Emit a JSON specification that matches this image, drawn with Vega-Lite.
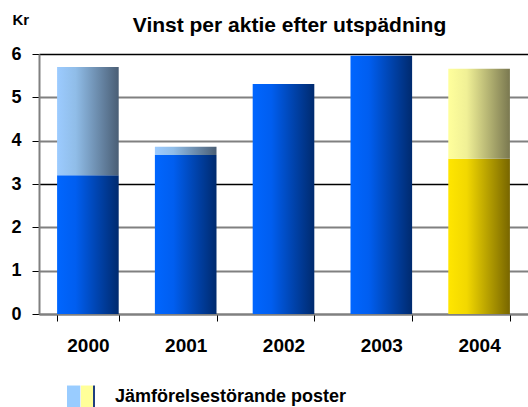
{
  "$schema": "https://vega.github.io/schema/vega-lite/v6.json",
  "width": 489,
  "height": 260,
  "autosize": {"type": "none"},
  "padding": {"left": 39, "top": 54, "right": 0, "bottom": 93},
  "background": "white",
  "config": {"view": {"stroke": null}, "font": "Liberation Sans"},
  "title": {
    "text": "Vinst per aktie efter utspädning",
    "fontSize": 21,
    "fontWeight": "bold",
    "font": "Liberation Sans",
    "color": "#000",
    "anchor": "middle",
    "dx": 6,
    "dy": 28
  },
  "data": {
    "values": [
      {"year": "2000", "part": "base", "group": "blue", "low": 0, "high": 3.2},
      {"year": "2000", "part": "extra", "group": "blue", "low": 3.2, "high": 5.7},
      {"year": "2001", "part": "base", "group": "blue", "low": 0, "high": 3.67},
      {"year": "2001", "part": "extra", "group": "blue", "low": 3.67, "high": 3.86},
      {"year": "2002", "part": "base", "group": "blue", "low": 0, "high": 5.31},
      {"year": "2003", "part": "base", "group": "blue", "low": 0, "high": 5.96},
      {"year": "2004", "part": "base", "group": "yellow", "low": 0, "high": 3.58},
      {"year": "2004", "part": "extra", "group": "yellow", "low": 3.58, "high": 5.66}
    ]
  },
  "encoding": {
    "x": {
      "field": "year",
      "type": "nominal",
      "scale": {"paddingInner": 0.37, "paddingOuter": 0.185},
      "axis": {
        "title": null,
        "domainColor": "#808080",
        "domainWidth": 2,
        "tickColor": "#000",
        "tickSize": 7,
        "tickBand": "extent",
        "labelAngle": 0,
        "labelFontSize": 19,
        "labelFontWeight": "bold",
        "labelColor": "#000",
        "labelBaseline": "alphabetic",
        "labelPadding": 30,
        "grid": false
      }
    },
    "y": {
      "field": "high",
      "type": "quantitative",
      "scale": {"domain": [0, 6], "nice": false},
      "axis": {
        "title": "Kr",
        "titleAngle": 0,
        "titleAlign": "left",
        "titleBaseline": "alphabetic",
        "titleX": -27,
        "titleY": -30,
        "titleFontSize": 15,
        "titleFontWeight": "bold",
        "titleColor": "#000",
        "values": [0, 1, 2, 3, 4, 5, 6],
        "labelFontSize": 18,
        "labelFontWeight": "bold",
        "labelColor": "#000",
        "labelPadding": 11,
        "labelFlush": false,
        "tickSize": 7,
        "tickColor": "#000",
        "domainColor": "#808080",
        "domainWidth": 2,
        "grid": true,
        "gridColor": {"condition": {"test": "datum.value == 3 || datum.value == 6", "value": "#000"}, "value": "#808080"},
        "gridWidth": {"condition": {"test": "datum.value == 3 || datum.value == 6", "value": 1.5}, "value": 2}
      }
    },
    "y2": {"field": "low"}
  },
  "layer": [
    {
      "transform": [{"filter": "datum.group == 'blue' && datum.part == 'base'"}],
      "mark": {
        "type": "bar",
        "color": {"gradient": "linear", "x1": 0, "y1": 0, "x2": 1, "y2": 0,
          "stops": [{"offset": 0, "color": "#0066ff"}, {"offset": 0.3, "color": "#005ef0"}, {"offset": 1, "color": "#002a6e"}]}
      }
    },
    {
      "transform": [{"filter": "datum.group == 'blue' && datum.part == 'extra'"}],
      "mark": {
        "type": "bar",
        "color": {"gradient": "linear", "x1": 0, "y1": 0, "x2": 1, "y2": 0,
          "stops": [{"offset": 0, "color": "#9ccbff"}, {"offset": 0.3, "color": "#90bde8"}, {"offset": 1, "color": "#4a5e75"}]}
      }
    },
    {
      "transform": [{"filter": "datum.group == 'yellow' && datum.part == 'base'"}],
      "mark": {
        "type": "bar",
        "color": {"gradient": "linear", "x1": 0, "y1": 0, "x2": 1, "y2": 0,
          "stops": [{"offset": 0, "color": "#ffe600"}, {"offset": 0.3, "color": "#f2d800"}, {"offset": 1, "color": "#786600"}]}
      }
    },
    {
      "transform": [{"filter": "datum.group == 'yellow' && datum.part == 'extra'"}],
      "mark": {
        "type": "bar",
        "color": {"gradient": "linear", "x1": 0, "y1": 0, "x2": 1, "y2": 0,
          "stops": [{"offset": 0, "color": "#ffff9c"}, {"offset": 0.3, "color": "#f0f096"}, {"offset": 1, "color": "#7a7850"}]}
      }
    },
    {
      "transform": [{"filter": "false"}],
      "mark": {
        "type": "point",
        "filled": true,
        "opacity": 1,
        "strokeWidth": 0,
        "color": {"gradient": "linear", "x1": 0, "y1": 0, "x2": 1, "y2": 0,
          "stops": [{"offset": 0, "color": "#99ccff"}, {"offset": 0.45, "color": "#99ccff"}, {"offset": 0.45, "color": "#e8eef5"}, {"offset": 0.49, "color": "#e8eef5"}, {"offset": 0.49, "color": "#ffff99"}, {"offset": 0.94, "color": "#ffff99"}, {"offset": 0.94, "color": "#1f3f7f"}, {"offset": 1, "color": "#1f3f7f"}]}
      },
      "encoding": {
        "shape": {
          "datum": "Jämförelsestörande poster",
          "scale": {"range": ["M-1,-0.82H1V0.82H-1Z"]},
          "legend": {
            "title": null,
            "orient": "none",
            "legendX": 28,
            "legendY": 329,
            "padding": 0,
            "symbolSize": 784,
            "symbolOpacity": 1,
            "symbolStrokeWidth": 0,
            "labelFontSize": 18,
            "labelFont": "Liberation Sans",
            "labelFontWeight": "bold",
            "labelColor": "#000",
            "labelOffset": 20,
            "labelLimit": 400
          }
        }
      }
    }
  ]
}
